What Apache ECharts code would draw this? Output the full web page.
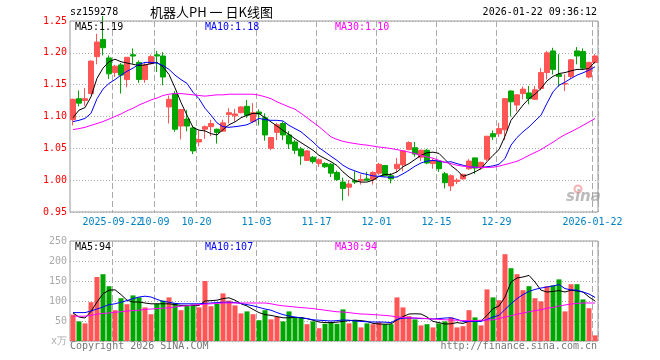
<!DOCTYPE html>
<html>
<head>
<meta charset="utf-8">
<script src="https://cdn.jsdelivr.net/npm/echarts@6/dist/echarts.min.js"></script>
<style>html,body{margin:0;padding:0;background:#fff}#c{width:660px;height:360px}</style>
</head>
<body>
<div id="c"></div>
<script>
var dates = ['2025-09-11','2025-09-12','2025-09-15','2025-09-16','2025-09-17','2025-09-18','2025-09-19','2025-09-22','2025-09-23','2025-09-24',
'2025-09-25','2025-09-26','2025-09-29','2025-09-30','2025-10-09','2025-10-10','2025-10-13','2025-10-14','2025-10-15','2025-10-16',
'2025-10-17','2025-10-20','2025-10-21','2025-10-22','2025-10-23','2025-10-24','2025-10-27','2025-10-28','2025-10-29','2025-10-30',
'2025-10-31','2025-11-03','2025-11-04','2025-11-05','2025-11-06','2025-11-07','2025-11-10','2025-11-11','2025-11-12','2025-11-13',
'2025-11-14','2025-11-17','2025-11-18','2025-11-19','2025-11-20','2025-11-21','2025-11-24','2025-11-25','2025-11-26','2025-11-27',
'2025-11-28','2025-12-01','2025-12-02','2025-12-03','2025-12-04','2025-12-05','2025-12-08','2025-12-09','2025-12-10','2025-12-11',
'2025-12-12','2025-12-15','2025-12-16','2025-12-17','2025-12-18','2025-12-19','2025-12-22','2025-12-23','2025-12-24','2025-12-25',
'2025-12-26','2025-12-29','2025-12-30','2025-12-31','2026-01-05','2026-01-06','2026-01-07','2026-01-08','2026-01-09','2026-01-12',
'2026-01-13','2026-01-14','2026-01-15','2026-01-16','2026-01-19','2026-01-20','2026-01-21','2026-01-22'];

var opens = [1.095,1.128,1.125,1.136,1.194,1.221,1.192,1.169,1.181,1.158,
1.197,1.185,1.158,1.183,1.197,1.195,1.115,1.136,1.085,1.096,
1.082,1.060,1.080,1.084,1.080,1.077,1.103,1.101,1.106,1.116,
1.092,1.107,1.098,1.050,1.075,1.089,1.071,1.060,1.049,1.031,
1.036,1.026,1.026,1.025,1.012,0.997,0.989,0.999,0.999,1.002,
1.001,1.011,1.023,1.007,1.018,1.024,1.048,1.051,1.036,1.047,
1.026,1.030,1.010,0.991,0.998,1.002,1.018,1.035,1.019,1.033,
1.073,1.073,1.079,1.140,1.118,1.136,1.137,1.127,1.144,1.169,
1.203,1.166,1.151,1.163,1.203,1.202,1.162,1.185];
var closes = [1.127,1.121,1.128,1.187,1.217,1.208,1.167,1.179,1.165,1.193,
1.195,1.158,1.181,1.194,1.195,1.162,1.127,1.080,1.111,1.085,
1.046,1.064,1.084,1.089,1.075,1.090,1.106,1.104,1.115,1.102,
1.106,1.104,1.071,1.067,1.087,1.071,1.057,1.047,1.038,1.046,
1.029,1.032,1.021,1.011,1.001,0.987,0.994,0.997,1.001,1.000,
1.012,1.025,1.007,1.002,1.025,1.046,1.059,1.041,1.047,1.027,
1.031,1.018,0.996,1.007,1.000,1.009,1.030,1.019,1.028,1.069,
1.068,1.081,1.128,1.123,1.134,1.143,1.128,1.142,1.169,1.200,
1.174,1.163,1.152,1.189,1.195,1.176,1.185,1.195];
var lows = [1.086,1.116,1.117,1.135,1.182,1.196,1.159,1.162,1.136,1.146,
1.183,1.153,1.153,1.182,1.170,1.149,1.089,1.076,1.064,1.077,
1.041,1.053,1.065,1.069,1.0575,1.076,1.089,1.092,1.105,1.098,
1.090,1.086,1.062,1.047,1.063,1.063,1.049,1.041,1.024,1.030,
1.026,1.021,1.019,1.005,0.999,0.968,0.975,0.994,0.993,0.999,
0.993,1.008,1.006,0.995,1.012,1.014,1.047,1.037,1.030,1.025,
1.018,1.013,0.987,0.983,0.994,1.001,1.016,1.010,1.017,1.030,
1.063,1.068,1.063,1.100,1.108,1.127,1.119,1.126,1.141,1.158,
1.166,1.147,1.140,1.159,1.182,1.174,1.160,1.183];
var highs = [1.128,1.141,1.145,1.188,1.230,1.258,1.196,1.181,1.184,1.193,
1.207,1.188,1.184,1.197,1.203,1.201,1.133,1.140,1.112,1.110,
1.084,1.0785,1.086,1.095,1.081,1.095,1.113,1.112,1.116,1.126,
1.121,1.111,1.105,1.068,1.090,1.092,1.077,1.063,1.052,1.047,
1.038,1.034,1.028,1.027,1.015,1.004,1.000,1.014,1.009,1.013,
1.014,1.027,1.024,1.011,1.035,1.047,1.061,1.060,1.048,1.049,
1.034,1.031,1.013,1.009,1.003,1.010,1.033,1.035,1.029,1.069,
1.078,1.090,1.129,1.141,1.135,1.147,1.148,1.148,1.176,1.203,
1.208,1.198,1.166,1.190,1.209,1.207,1.186,1.198];

var ma5 = [1.098,1.110,1.114,1.131,1.160,1.176,1.186,1.190,1.186,1.184,
1.182,1.180,1.181,1.183,1.185,1.178,1.166,1.145,1.122,1.102,
1.083,1.0785,1.0774,1.073,1.071,1.0795,1.087,1.0915,1.098,1.102,
1.105,1.1046,1.098,1.0915,1.085,1.078,1.072,1.065,1.059,1.053,
1.047,1.039,1.034,1.029,1.023,1.013,1.005,0.999,0.997,0.997,
1.000,1.006,1.009,1.009,1.013,1.021,1.026,1.0325,1.039,1.043,
1.044,1.042,1.0325,1.023,1.0156,1.006,1.009,1.013,1.018,1.029,
1.039,1.048,1.069,1.094,1.1057,1.118,1.128,1.135,1.144,1.156,
1.163,1.1675,1.169,1.1717,1.174,1.174,1.1754,1.186];
var ma10 = [1.092,1.094,1.097,1.105,1.128,1.143,1.152,1.158,1.165,1.171,
1.176,1.182,1.185,1.185,1.184,1.180,1.174,1.165,1.158,1.152,
1.138,1.128,1.113,1.102,1.090,1.084,1.083,1.084,1.0853,1.087,
1.0915,1.097,1.095,1.094,1.094,1.093,1.086,1.081,1.076,1.068,
1.060,1.051,1.0444,1.0375,1.031,1.0234,1.018,1.0145,1.011,1.009,
1.0067,1.006,1.005,1.0045,1.005,1.010,1.0156,1.022,1.027,1.030,
1.031,1.030,1.028,1.029,1.026,1.0234,1.021,1.020,1.020,1.021,
1.0224,1.025,1.034,1.055,1.067,1.076,1.0837,1.093,1.102,1.121,
1.1387,1.149,1.154,1.1597,1.165,1.1686,1.1728,1.178];
var ma30 = [1.0795,1.081,1.083,1.086,1.089,1.092,1.096,1.100,1.104,1.109,
1.113,1.118,1.122,1.126,1.129,1.133,1.135,1.136,1.136,1.135,
1.134,1.133,1.132,1.133,1.134,1.134,1.135,1.135,1.135,1.135,
1.135,1.1335,1.131,1.128,1.123,1.119,1.115,1.1115,1.105,1.098,
1.091,1.084,1.076,1.068,1.064,1.061,1.059,1.0575,1.056,1.055,
1.0535,1.052,1.051,1.0496,1.048,1.046,1.044,1.042,1.0386,1.0365,
1.0345,1.031,1.028,1.026,1.0234,1.022,1.021,1.0205,1.020,1.020,
1.0203,1.022,1.0245,1.027,1.0297,1.034,1.039,1.0435,1.048,1.054,
1.0596,1.066,1.0716,1.076,1.081,1.086,1.0915,1.0968];

var volumes = [66,49,44,97,160,167,137,77,107,92,
114,109,84,67,93,101,109,95,77,89,
91,84,150,87,93,119,101,89,69,74,
67,52,77,54,60,49,74,58,60,42,
49,32,43,47,43,79,44,52,34,44,
42,47,42,42,109,84,62,54,39,42,
34,44,49,59,34,37,77,59,39,129,
109,102,217,182,167,127,137,107,99,137,
139,154,74,142,142,104,82,14];
var vma5 = [70,60,57.5,74,97.5,118,127,128,116,102,
97.5,97.5,95,93,93,93,93,91,89,89,
89,89,100,101,102,106,108,102,93,87.5,
79,71,66,64,61,58,58,59,58,56,
52,47.5,46,46,47,49,51,52,51,49,
44,42.5,42,42.5,52.5,61,67.5,68,67.5,60,
49,46,42.5,43,46,44,49,51,50,64,
81,87.5,110,147.5,157.5,160,164,147.5,127,122.5,
124,126,122.5,127,125,122.5,110,100];
var vma10 = [71,71,71,75,80,85,91,93,97,101,
106,110,112,110,104,99,97,94,93,93,
93,93,94,95,96,97,97,96,94,91,
88,84,80,77,71,66,62.5,60,58,56,
53,52,51,50,51,52.5,52,50,49,48,
47.5,47.5,47,46,54,57,57.5,57,56,56,
55,56,57.5,58,54,49,49,49,49,54,
60,64,79,93,106,116,124,129,132.5,135,
137.5,141,131,128,127,122.5,117.5,109];
var vma30 = [62,62,62,64,67,69,70,72,73,75,
76,77,79,80,81,82,83,85,87,88,
90,91,92,93,94,95,95,95,95,95,
95,95,95,93,90,88,86.5,85,83.5,82.5,
81,79,77,75,73,72.5,71,69,67.5,67,
66,65,64,62.5,60,59,58,57.5,57,56,
55,54,53,52.5,52,51,51,51,52,52.5,
53,56,60,63,67,70,73,76,78,82,
84,87.5,90,92.5,94,95,95,95];

var tickDates = ['2025-09-22','2025-10-09','2025-10-20','2025-11-03','2025-11-17','2025-12-01','2025-12-15','2025-12-29','2026-01-22'];
var tickLabels = ['2025-09-22','10-09','10-20','11-03','11-17','12-01','12-15','12-29','2026-01-22'];
var priceTicks = [0.95, 1.25, 0.05];
var volTicks = [0, 250, 50];
var maTexts = ['MA5:1.19','MA10:1.18','MA30:1.10'];
var volMaTexts = ['MA5:94','MA10:107','MA30:94'];

var RED = '#ff5555', GREEN = '#00a600';
var MONO = '"DejaVu Sans Mono", "Liberation Mono", monospace';
var isTick = function (idx) { return tickDates.indexOf(dates[idx]) >= 0; };
// labels split over two overlaid axes (even / odd tick numbers) so that adjacent labels never get auto-hidden
var isTickEven = function (idx) { var j = tickDates.indexOf(dates[idx]); return j >= 0 && j % 2 === 0; };
var isTickOdd = function (idx) { var j = tickDates.indexOf(dates[idx]); return j >= 0 && j % 2 === 1; };
var fmtTick = function (v) { var j = tickDates.indexOf(v); return j >= 0 ? tickLabels[j] : ''; };

var kData = dates.map(function (d, i) { return [opens[i], closes[i], lows[i], highs[i]]; });
var vData = volumes.map(function (v, i) {
  return { value: v, itemStyle: { color: closes[i] >= opens[i] ? RED : GREEN } };
});

var chart = echarts.init(document.getElementById('c'), null, { renderer: 'canvas' });

function maLine(name, data, color, xi, yi) {
  return { name: name, type: 'line', xAxisIndex: xi, yAxisIndex: yi, data: data,
    showSymbol: false, symbol: 'none', smooth: false, z: 5, silent: true,
    lineStyle: { color: color, width: 1 } };
}
function txt(text, x, y, color, font, align) {
  return { type: 'text', x: x, y: y, z: 100, silent: true,
    style: { text: text, fill: color, font: font, align: align || 'left', verticalAlign: 'middle',
      textAlign: align || 'left', textVerticalAlign: 'middle' } };
}
function labelAxis(intervalFn) {
  return { type: 'category', gridIndex: 0, data: dates, boundaryGap: true, position: 'bottom',
    axisLine: { show: false }, axisTick: { show: false }, splitLine: { show: false },
    axisLabel: { interval: intervalFn, color: '#0080c0', fontSize: 10, fontFamily: MONO, margin: 5,
      padding: [0, 5, 0, 0], showMinLabel: true, showMaxLabel: true, hideOverlap: false, formatter: fmtTick } };
}

var gridSplitX = { show: true, interval: isTick, lineStyle: { color: '#aaaaaa', width: 1, type: [6, 3] } };

var axis0 = labelAxis(isTickEven);
axis0.splitLine = gridSplitX;

var option = {
  animation: false,
  backgroundColor: '#ffffff',
  grid: [
    { left: 70, top: 21, width: 528, height: 191, show: true, borderColor: '#999999', borderWidth: 1, backgroundColor: 'transparent' },
    { left: 70, top: 241, width: 528, height: 100, show: true, borderColor: '#999999', borderWidth: 1, backgroundColor: 'transparent' }
  ],
  xAxis: [
    axis0,
    { type: 'category', gridIndex: 1, data: dates, boundaryGap: true,
      axisLine: { show: false }, axisTick: { show: false }, axisLabel: { show: false },
      splitLine: gridSplitX },
    labelAxis(isTickOdd)
  ],
  yAxis: [
    { type: 'value', gridIndex: 0, min: priceTicks[0], max: priceTicks[1], interval: priceTicks[2], scale: true,
      axisLine: { show: false }, axisTick: { show: false },
      axisLabel: { color: '#ff0000', fontSize: 10, fontFamily: MONO, margin: 3,
        formatter: function (v) { return v.toFixed(2); } },
      splitLine: { show: true, lineStyle: { color: '#aaaaaa', width: 1, type: [1, 2] } } },
    { type: 'value', gridIndex: 1, min: volTicks[0], max: volTicks[1], interval: volTicks[2],
      axisLine: { show: false }, axisTick: { show: false },
      axisLabel: { color: '#aaaaaa', fontSize: 10, fontFamily: MONO, margin: 3,
        formatter: function (v) { return v === 0 ? 'x万' : String(v); } },
      splitLine: { show: true, lineStyle: { color: '#aaaaaa', width: 1, type: [1, 2] } } }
  ],
  series: [
    { name: 'K', type: 'candlestick', xAxisIndex: 0, yAxisIndex: 0, data: kData, barWidth: 5, clip: false,
      itemStyle: { color: RED, color0: GREEN, borderColor: RED, borderColor0: GREEN, borderWidth: 1 } },
    maLine('MA5', ma5, '#000000', 0, 0),
    maLine('MA10', ma10, '#0000ff', 0, 0),
    maLine('MA30', ma30, '#ff00ff', 0, 0),
    { name: 'VOL', type: 'bar', xAxisIndex: 1, yAxisIndex: 1, data: vData, barWidth: 5, silent: true },
    maLine('VMA5', vma5, '#000000', 1, 1),
    maLine('VMA10', vma10, '#0000ff', 1, 1),
    maLine('VMA30', vma30, '#ff00ff', 1, 1)
  ],
  graphic: [
    txt('sz159278', 70, 12, '#000000', '10px ' + MONO),
    txt('机器人PH 一 日K线图', 150, 12, '#000000', '13px "Noto Sans CJK SC", sans-serif'),
    txt('2026-01-22 09:36:12', 597, 12, '#000000', '10px ' + MONO, 'right'),
    txt(maTexts[0], 75, 27, '#000000', '10px ' + MONO),
    txt(maTexts[1], 205, 27, '#0000ff', '10px ' + MONO),
    txt(maTexts[2], 335, 27, '#ff00ff', '10px ' + MONO),
    txt(volMaTexts[0], 75, 247, '#000000', '10px ' + MONO),
    txt(volMaTexts[1], 205, 247, '#0000ff', '10px ' + MONO),
    txt(volMaTexts[2], 335, 247, '#ff00ff', '10px ' + MONO),
    txt('Copyright 2026 SINA.COM', 70, 346, '#777777', '10px ' + MONO),
    txt('http://finance.sina.com.cn', 597, 346, '#777777', '10px ' + MONO, 'right'),
    { type: 'circle', z: 90, silent: true, shape: { cx: 578, cy: 189, r: 3.5 },
      style: { fill: 'none', stroke: '#f3a0a0', lineWidth: 2, opacity: 0.8 } },
    txt('sina', 566, 197, 'rgba(150,150,150,0.65)', 'italic bold 15px "DejaVu Sans", sans-serif')
  ]
};
chart.setOption(option);
</script>
</body>
</html>
